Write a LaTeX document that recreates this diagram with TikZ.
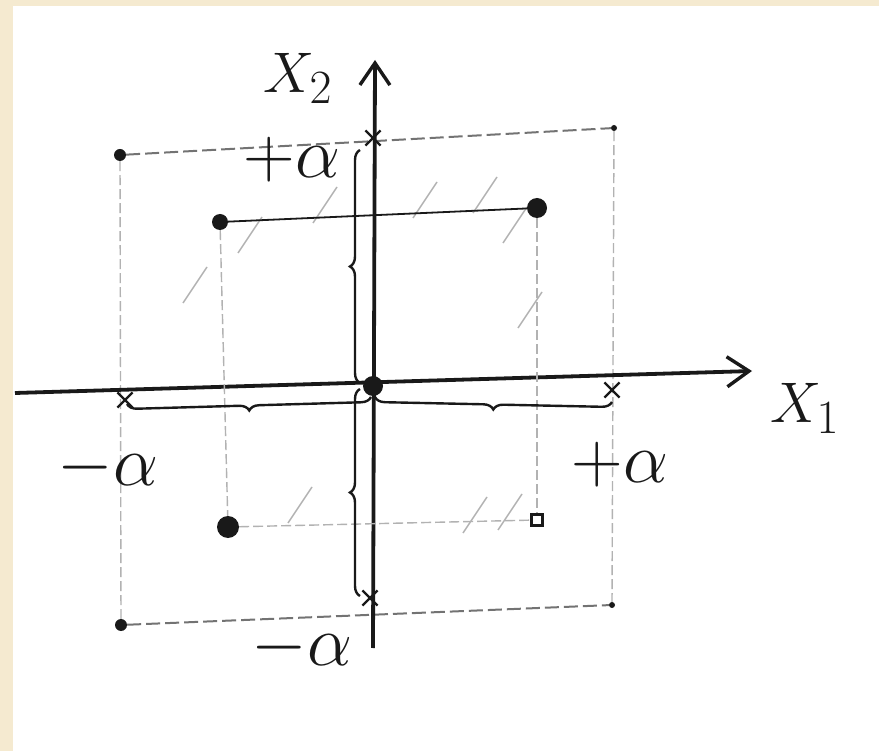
\documentclass[tikz,border=0pt]{standalone}
\usepackage{tikz}
\usetikzlibrary{arrows.meta, shapes.misc, decorations.pathreplacing}
\definecolor{paper}{RGB}{245,234,208}
\definecolor{pencil}{RGB}{25,25,25}
\colorlet{faint}{black!30}
\colorlet{soft}{black!55}

\begin{document}
\begin{tikzpicture}[x=1pt, y=-1pt,
    axis/.style={-{Straight Barb[length=22pt,width=30pt,line width=3.4pt]}, pencil, line width=3.8pt},
    dotpt/.style={circle, fill=pencil, inner sep=0pt, minimum size=13pt},
    boxpt/.style={rectangle, draw=pencil, line width=2.6pt, inner sep=0pt, minimum size=11pt},
    starpt/.style={cross out, draw=pencil, line width=2.2pt, inner sep=0pt, minimum size=13pt},
    linkline/.style={pencil, line width=1.8pt},
    guide/.style={faint, line width=1.4pt, dash pattern=on 10pt off 4pt},
    frameline/.style={soft, line width=2pt, dash pattern=on 14pt off 5pt},
    bracearm/.style={decorate, decoration={brace, amplitude=10pt}, pencil, line width=2.4pt},
    hatch/.style={faint, line width=1.5pt},
    lbl/.style={font=\Huge, scale=2.3, transform shape, text=pencil},
    alpha lbl/.style={lbl, scale=1.25},
  ]
  % paper
  \useasboundingbox (0,0) rectangle (879,751);
  \fill[paper] (0,0) rectangle (879,751);
  \fill[white] (13,6) rectangle (879,751);

  % outer frame (star square)
  \node[dotpt, minimum size=12pt] (c1) at (120,155) {};
  \node[dotpt, minimum size=6pt] (c2) at (614,128) {};
  \node[dotpt, minimum size=6pt] (c4) at (612,605) {};
  \node[dotpt, minimum size=12pt] (c3) at (121,625) {};
  \draw[frameline] (c1) -- (c2);
  \draw[frameline] (c3) -- (c4);
  \draw[guide] (c2) -- (c4);
  \draw[guide] (c1) -- (c3);

  % hatching
  \foreach \hx/\hy in {250/235, 325/205, 425/200, 485/195, 515/225, 195/285, 530/310, 475/515, 510/512, 300/505}
    \draw[hatch] (\hx-12,\hy+18) -- (\hx+12,\hy-18);

  % axes
  \coordinate (x1a) at (15,393);
  \coordinate (x1b) at (752,371);
  \coordinate (x2a) at (373,648);
  \coordinate (x2b) at (375,60);
  \draw[axis] (x1a) -- (x1b);
  \draw[axis] (x2a) -- (x2b);
  \node[lbl] (X1) at (805,408) {$X_1$};
  \node[lbl] (X2) at (298,78) {$X_2$};
  \node[dotpt, minimum size=20pt] (o) at (373,386) {};

  % factorial points
  \node[dotpt, minimum size=16pt] (f1) at (220,222) {};
  \node[dotpt, minimum size=20pt] (f2) at (537,208) {};
  \node[dotpt, minimum size=22pt] (f3) at (228,527) {};
  \node[boxpt] (f4) at (537,520) {};
  \draw[linkline] (f1) -- (f2);
  \draw[guide] (f3) -- (f4);
  \draw[guide] (f1) -- (f3);
  \draw[guide] (f2) -- (f4);

  % star points
  \node[starpt] (sL) at (125,400) {};
  \node[starpt] (sR) at (612,390) {};
  \node[starpt] (sT) at (373,138) {};
  \node[starpt] (sB) at (370,598) {};

  % braces
  \coordinate (bL) at (127,404);
  \coordinate (bO1) at (371,397);
  \coordinate (bO2) at (375,397);
  \coordinate (bR) at (612,402);
  \draw[bracearm] (bO1) -- (bL);
  \draw[bracearm] (bR) -- (bO2);
  \coordinate (vT) at (360,150);
  \coordinate (vO1) at (360,383);
  \coordinate (vO2) at (360,389);
  \coordinate (vB) at (360,596);
  \draw[bracearm] (vO1) -- (vT);
  \draw[bracearm] (vB) -- (vO2);

  % labels
  \node[alpha lbl] (aT) at (292,160) {$+\alpha$};
  \node[alpha lbl] (aL) at (108,468) {$-\alpha$};
  \node[alpha lbl] (aR) at (620,465) {$+\alpha$};
  \node[alpha lbl] (aB) at (302,648) {$-\alpha$};
\end{tikzpicture}
\end{document}
